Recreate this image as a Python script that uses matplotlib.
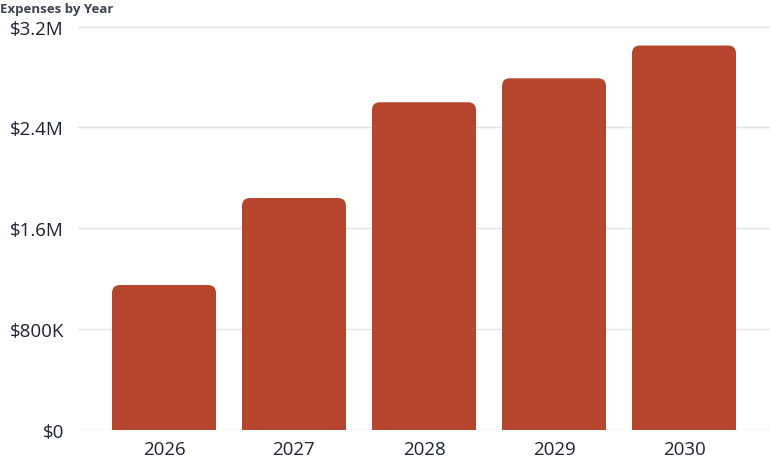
import matplotlib
matplotlib.use('Agg')
import matplotlib.pyplot as plt
from matplotlib.patches import FancyBboxPatch, Rectangle

years = ['2026', '2027', '2028', '2029', '2030']
expenses = [1150000, 1840000, 2600000, 2790000, 3050000]
yticks = [0, 800000, 1600000, 2400000, 3200000]
ytick_labels = ['$0', '$800K', '$1.6M', '$2.4M', '$3.2M']

bar_color = '#b5452c'
text_color = '#1c2331'
grid_color = '#e4e4e6'

plt.rcParams['font.family'] = ['Open Sans', 'DejaVu Sans']

fig = plt.figure(figsize=(7.7, 4.77), dpi=100)
ax = fig.add_axes([78 / 770, 1 - 431 / 477, 692 / 770, (431 - 15) / 477])

ymax = 3300000
ax.set_ylim(0, ymax)
ax.set_xlim(-0.6615, 4.6615)

bars = ax.bar(range(len(years)), expenses, width=0.8, color=bar_color)

# swap each bar for one with rounded top corners
px_x = (ax.get_xlim()[1] - ax.get_xlim()[0]) / 692
px_y = ymax / 416
radius = 8 * px_x
aspect = px_y / px_x
for b in bars:
    x0, w, h = b.get_x(), b.get_width(), b.get_height()
    b.set_visible(False)
    ax.add_patch(FancyBboxPatch((x0, 0), w, h,
                                boxstyle='round,pad=0,rounding_size=%f' % radius,
                                mutation_aspect=aspect, fc=bar_color, ec='none', zorder=3))
    ax.add_patch(Rectangle((x0, 0), w, h / 2, fc=bar_color, ec='none', zorder=3))

ax.set_yticks(yticks)
ax.set_yticklabels(ytick_labels)
ax.set_xticks(range(len(years)))
ax.set_xticklabels(years)

ax.grid(axis='y', color=grid_color, linewidth=1, zorder=0)
ax.set_axisbelow(True)
for s in ax.spines.values():
    s.set_visible(False)
ax.tick_params(axis='both', length=0, labelsize=13.5, colors=text_color)
ax.tick_params(axis='y', pad=10)
ax.tick_params(axis='x', pad=7)

fig.text(0.0, 1 - 9 / 477, 'Expenses by Year', fontsize=9.5, fontweight='bold',
         color='#3d4250', va='center', ha='left')

fig.savefig('out.png', dpi=100)
